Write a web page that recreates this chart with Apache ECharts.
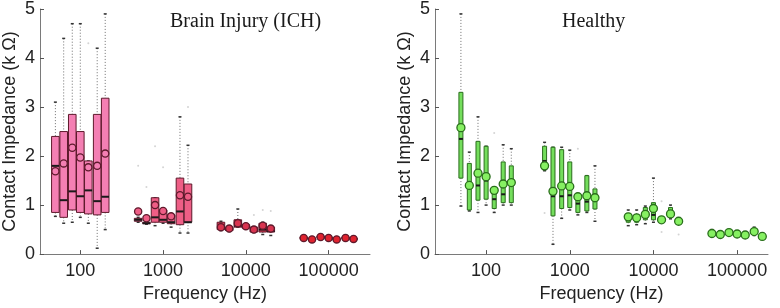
<!DOCTYPE html>
<html>
<head>
<meta charset="utf-8">
<script src="https://cdn.jsdelivr.net/npm/echarts@6/dist/echarts.min.js"></script>
<style>
html,body{margin:0;padding:0;background:#fff}
#chart{width:780px;height:308px}
</style>
</head>
<body>
<div id="chart"></div>
<script>
// frequencies (Hz), same for both panels
var freqs = [50, 63, 80, 100, 125, 160, 200,
             500, 630, 800, 1000, 1250, 1600, 2000,
             5000, 6300, 8000, 10000, 12500, 16000, 20000,
             50000, 63000, 80000, 100000, 125000, 160000, 200000];
var xTicks = [100, 1000, 10000, 100000];
var yTicks = [0, 1, 2, 3, 4, 5];

// Brain Injury (ICH) -- kOhm
var ichLo   = [0.77,0.63,0.65,0.75,0.63,0.12,0.50, 0.65,0.61,0.58,0.63,0.55,0.43,0.43, 0.48,0.46,0.55,0.52,0.44,0.40,0.38, 0.31,0.28,0.33,0.31,0.28,0.31,0.29];
var ichQ1   = [0.85,0.75,0.90,0.85,0.82,0.80,0.85, 0.67,0.62,0.65,0.65,0.62,0.60,0.65, 0.50,0.48,0.55,0.53,0.45,0.45,0.45, 0.32,0.29,0.34,0.32,0.29,0.32,0.30];
var ichMed  = [1.80,1.10,1.28,1.18,1.30,1.08,1.17, 0.70,0.63,0.75,0.70,0.65,0.87,0.65, 0.55,0.50,0.58,0.56,0.48,0.50,0.47, 0.33,0.30,0.35,0.33,0.30,0.33,0.31];
var ichQ3   = [2.40,2.50,2.85,2.50,1.90,2.85,3.18, 0.73,0.65,1.15,0.90,0.80,1.55,1.43, 0.65,0.55,0.70,0.60,0.55,0.63,0.55, 0.34,0.31,0.36,0.34,0.31,0.34,0.32];
var ichHi   = [3.10,4.40,4.70,4.70,1.90,4.20,4.90, 0.75,0.66,1.15,0.90,0.80,2.80,2.22, 0.67,0.56,0.92,0.61,0.56,0.65,0.56, 0.35,0.32,0.37,0.35,0.32,0.35,0.33];
var ichMean = [1.69,1.85,2.17,1.97,1.77,1.80,2.05, 0.87,0.73,1.00,0.88,0.77,1.20,1.17, 0.55,0.52,0.63,0.57,0.50,0.58,0.52, 0.33,0.30,0.35,0.33,0.30,0.33,0.31];
var ichOutF = [125, 500, 630, 800, 1000, 2000, 12500, 16000, 20000];
var ichOutV = [4.30, 1.80, 1.37, 2.20, 1.77, 3.00, 0.80, 0.90, 0.88];

// Healthy -- kOhm
var hLo   = [0.98,0.88,0.85,1.00,0.85,1.00,1.00, 1.70,0.20,0.73,0.90,0.80,0.85,0.67, 0.58,0.60,0.62,0.65,0.68,0.72,0.65, 0.35,0.33,0.42,0.39,0.37,0.38,0.34];
var hQ1   = [1.55,0.90,1.10,1.12,0.93,1.05,1.05, 1.72,0.78,0.93,0.95,0.85,0.88,0.92, 0.65,0.65,0.70,0.70,0.69,0.75,0.66, 0.38,0.36,0.43,0.40,0.38,0.42,0.35];
var hMed  = [2.35,1.40,1.40,1.50,1.12,1.22,1.50, 1.90,1.18,1.18,1.20,1.03,1.07,1.12, 0.72,0.70,0.78,0.80,0.70,0.80,0.67, 0.42,0.40,0.44,0.41,0.39,0.46,0.36];
var hQ3   = [3.30,1.85,2.30,2.20,1.30,1.88,1.80, 2.20,2.18,2.13,1.88,1.17,1.60,1.33, 0.83,0.80,0.95,1.05,0.71,0.95,0.68, 0.46,0.42,0.45,0.42,0.40,0.50,0.37];
var hHi   = [4.90,2.08,2.80,2.20,1.30,2.23,2.15, 2.28,2.18,2.18,2.12,1.17,1.60,1.80, 0.90,0.90,0.98,1.55,0.72,1.00,0.69, 0.50,0.44,0.46,0.43,0.41,0.55,0.38];
var hMean = [2.58,1.40,1.65,1.58,1.30,1.43,1.46, 1.80,1.28,1.39,1.38,1.17,1.19,1.15, 0.76,0.74,0.81,0.93,0.70,0.82,0.67, 0.42,0.40,0.44,0.41,0.39,0.46,0.36];
var hOutF = [125, 500, 1250, 12500, 12500, 20000];
var hOutV = [2.47, 0.84, 2.15, 1.08, 0.45, 0.40];

function rows(lo, q1, md, q3, hi, mn) {
    var out = [];
    for (var i = 0; i < freqs.length; i++) {
        out.push([freqs[i], lo[i], q1[i], md[i], q3[i], hi[i], mn[i]]);
    }
    return out;
}
function pts(f, v) {
    var out = [];
    for (var i = 0; i < f.length; i++) out.push([f[i], v[i]]);
    return out;
}

function ichColor(f) {
    if (f < 300) return '#f47fb3';
    if (f < 3000) return '#ee5e86';
    if (f < 30000) return '#d83450';
    return '#e0232f';
}
function hColor(f) { return '#74de5c'; }

function boxRender(half, r, colorOf, edge, circleFill) {
    return function (params, api) {
        var f = api.value(0);
        var lo = api.coord([f, api.value(1)]);
        var q1 = api.coord([f, api.value(2)]);
        var md = api.coord([f, api.value(3)]);
        var q3 = api.coord([f, api.value(4)]);
        var hi = api.coord([f, api.value(5)]);
        var mn = api.coord([f, api.value(6)]);
        var x = q1[0];
        var col = colorOf(f);
        var dash = {stroke: '#6e6e6e', lineWidth: 1, lineDash: [1, 2]};
        var cap = {stroke: '#333', lineWidth: 1.5};
        var kids = [
            {type: 'line', shape: {x1: x, y1: hi[1], x2: x, y2: q3[1]}, style: dash},
            {type: 'line', shape: {x1: x, y1: q1[1], x2: x, y2: lo[1]}, style: dash},
            {type: 'line', shape: {x1: x - 1.5, y1: hi[1], x2: x + 1.5, y2: hi[1]}, style: cap},
            {type: 'line', shape: {x1: x - 1.5, y1: lo[1], x2: x + 1.5, y2: lo[1]}, style: cap},
            {type: 'rect', shape: {x: x - half, y: q3[1], width: half * 2, height: Math.max(q1[1] - q3[1], 1)},
                style: {fill: col, stroke: edge, lineWidth: 1}},
            {type: 'line', shape: {x1: x - half, y1: md[1], x2: x + half, y2: md[1]},
                style: {stroke: '#1a1a1a', lineWidth: 2}},
            {type: 'circle', shape: {cx: x, cy: mn[1], r: r},
                style: {fill: circleFill ? circleFill(f) : col, stroke: edge, lineWidth: 1.3}}
        ];
        return {type: 'group', children: kids};
    };
}

function xAxis(grid, min, max) {
    return {
        type: 'log', gridIndex: grid, min: min, max: max, logBase: 10,
        name: 'Frequency (Hz)', nameLocation: 'middle', nameGap: 18,
        nameTextStyle: {fontFamily: 'Liberation Sans', fontSize: 18, color: '#222'},
        axisLine: {show: true, lineStyle: {color: '#7a7a7a', width: 1}},
        axisTick: {show: true, inside: true, length: 4, customValues: xTicks, lineStyle: {color: '#555'}},
        axisLabel: {customValues: xTicks, margin: 8, fontFamily: 'Liberation Sans', fontSize: 18, color: '#222',
            formatter: function (v) { return String(Math.round(v)); }},
        splitLine: {show: false}, minorTick: {show: false}, minorSplitLine: {show: false}
    };
}
function yAxis(grid) {
    return {
        type: 'value', gridIndex: grid, min: 0, max: 5, interval: 1,
        name: 'Contact Impedance (k \u03A9)', nameLocation: 'middle', nameGap: 21,
        nameTextStyle: {fontFamily: 'Liberation Sans', fontSize: 18, color: '#222'},
        axisLine: {show: true, lineStyle: {color: '#7a7a7a', width: 1}},
        axisTick: {show: true, inside: true, length: 4, lineStyle: {color: '#555'}},
        axisLabel: {margin: 5, fontFamily: 'Liberation Sans', fontSize: 18, color: '#222'},
        splitLine: {show: false}
    };
}

var chart = echarts.init(document.getElementById('chart'), null, {renderer: 'canvas'});
chart.setOption({
    backgroundColor: '#fff',
    animation: false,
    title: [
        {text: 'Brain Injury (ICH)', left: 165, top: 7,
            textStyle: {fontFamily: 'Liberation Serif', fontSize: 20, fontWeight: 'normal', color: '#1a1a1a'}},
        {text: 'Healthy', left: 557, top: 7,
            textStyle: {fontFamily: 'Liberation Serif', fontSize: 20, fontWeight: 'normal', color: '#1a1a1a'}}
    ],
    grid: [
        {left: 37, right: 410, top: 7, bottom: 44},
        {left: 435, right: 12, top: 7, bottom: 43}
    ],
    xAxis: [xAxis(0, 32.6, 316000), xAxis(1, 24.5, 234000)],
    yAxis: [yAxis(0), yAxis(1)],
    series: [
        {type: 'scatter', xAxisIndex: 0, yAxisIndex: 0, data: pts(ichOutF, ichOutV),
            symbolSize: 2, itemStyle: {color: '#c9c9c9'}, silent: true},
        {type: 'scatter', xAxisIndex: 1, yAxisIndex: 1, data: pts(hOutF, hOutV),
            symbolSize: 2, itemStyle: {color: '#c9c9c9'}, silent: true},
        {type: 'custom', xAxisIndex: 0, yAxisIndex: 0,
            data: rows(ichLo, ichQ1, ichMed, ichQ3, ichHi, ichMean),
            renderItem: boxRender(3.8, 3.6, ichColor, '#5e1a2c')},
        {type: 'custom', xAxisIndex: 1, yAxisIndex: 1,
            data: rows(hLo, hQ1, hMed, hQ3, hHi, hMean),
            renderItem: boxRender(2, 4, hColor, '#2a6e1c', function () { return '#86f062'; })}
    ]
});
</script>
</body>
</html>
